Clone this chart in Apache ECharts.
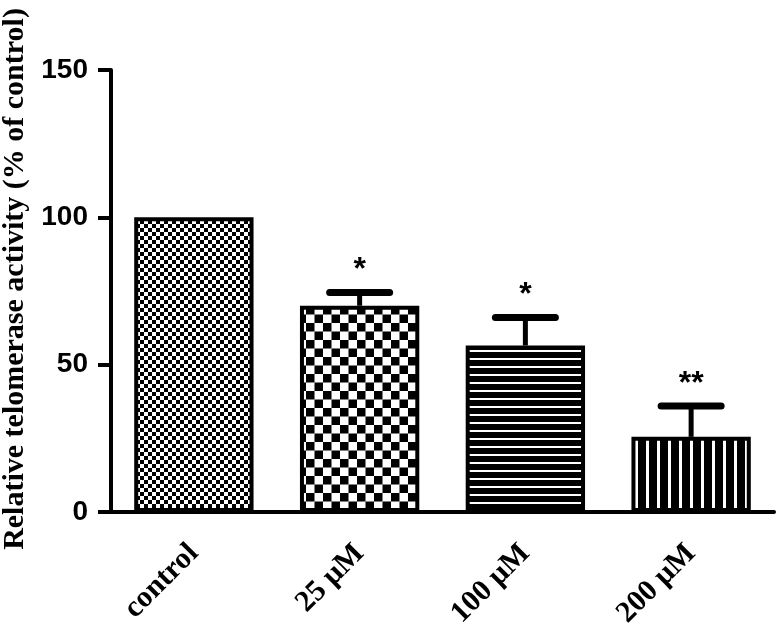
<!DOCTYPE html>
<html>
<head>
<meta charset="utf-8">
<script src="https://cdn.jsdelivr.net/npm/echarts@6/dist/echarts.min.js"></script>
<style>
  html, body { margin: 0; padding: 0; background: #fff; }
  #chart { width: 777px; height: 626px; }
</style>
</head>
<body>
<div id="chart"></div>
<script>
// data
const categories = ['control', '25 μM', '100 μM', '200 μM'];
const means = [100, 70, 56.5, 25.5];
const errTop = [null, 74.5, 66, 36];
const stars = ['', '*', '*', '**'];
const yTicks = [0, 50, 100, 150];

// fill patterns, drawn on small canvases
function makePattern(kind) {
  const c = document.createElement('canvas');
  const ctx = c.getContext('2d');
  if (kind === 'fineChecker' || kind === 'checker') {
    const s = kind === 'fineChecker' ? 4 : 8.6;
    const n = Math.round(s * 2);
    c.width = n; c.height = n;
    ctx.fillStyle = '#fff'; ctx.fillRect(0, 0, n, n);
    ctx.fillStyle = '#000';
    ctx.fillRect(0, 0, n / 2, n / 2);
    ctx.fillRect(n / 2, n / 2, n / 2, n / 2);
  } else if (kind === 'hstripe') {
    c.width = 8; c.height = 8;
    ctx.fillStyle = '#000'; ctx.fillRect(0, 0, 8, 8);
    ctx.fillStyle = '#fff'; ctx.fillRect(0, 6, 8, 2);
  } else {
    c.width = 11; c.height = 11;
    ctx.fillStyle = '#000'; ctx.fillRect(0, 0, 11, 11);
    ctx.fillStyle = '#fff'; ctx.fillRect(8, 0, 3, 11);
  }
  return { image: c, repeat: 'repeat' };
}
const fills = [makePattern('fineChecker'), makePattern('checker'), makePattern('hstripe'), makePattern('vstripe')];

const chart = echarts.init(document.getElementById('chart'));

chart.setOption({
  animation: false,
  backgroundColor: '#fff',
  grid: { left: 111, right: 3, top: 70, bottom: 114, outerBoundsMode: 'none' },
  xAxis: {
    type: 'category',
    data: categories,
    axisLine: { lineStyle: { color: '#000', width: 4 } },
    axisTick: { alignWithLabel: true, length: 15, lineStyle: { color: '#000', width: 3 } },
    axisLabel: {
      rotate: 45, margin: 37, color: '#000',
      fontFamily: 'Liberation Serif', fontWeight: 'bold', fontSize: 30
    }
  },
  yAxis: {
    type: 'value',
    min: yTicks[0], max: yTicks[yTicks.length - 1], interval: 50,
    name: 'Relative telomerase activity (% of control)',
    nameLocation: 'middle',
    nameGap: 78,
    nameTextStyle: {
      color: '#000', fontFamily: 'Liberation Serif', fontWeight: 'bold', fontSize: 30,
      padding: [0, 0, 0, 24]
    },
    axisLine: { show: true, lineStyle: { color: '#000', width: 4 } },
    axisTick: { show: true, length: 13, lineStyle: { color: '#000', width: 4 } },
    axisLabel: { margin: 23, color: '#000', fontFamily: 'Liberation Sans', fontWeight: 'bold', fontSize: 28 },
    splitLine: { show: false }
  },
  series: [
    {
      type: 'bar',
      barWidth: '72%',
      data: means.map((v, i) => ({
        value: v,
        itemStyle: { color: fills[i], borderColor: '#000', borderWidth: 4 }
      }))
    },
    {
      type: 'custom',
      z: 5,
      data: means.map((v, i) => [i, v, errTop[i], stars[i]]),
      renderItem: function (params, api) {
        const top = api.value(2);
        if (top === null || isNaN(top)) return;
        const base = api.coord([api.value(0), api.value(1)]);
        const tip = api.coord([api.value(0), top]);
        const half = 30;
        return {
          type: 'group',
          children: [
            { type: 'line', shape: { x1: base[0], y1: base[1], x2: tip[0], y2: tip[1] },
              style: { stroke: '#000', lineWidth: 5 } },
            { type: 'line', shape: { x1: tip[0] - half, y1: tip[1], x2: tip[0] + half, y2: tip[1] },
              style: { stroke: '#000', lineWidth: 7, lineCap: 'round' } },
            { type: 'text', x: tip[0], y: tip[1] - 6,
              style: { text: api.value(3), fill: '#000', align: 'center', verticalAlign: 'bottom',
                font: 'bold 32px "Liberation Sans"' } }
          ]
        };
      }
    }
  ]
});
</script>
</body>
</html>
